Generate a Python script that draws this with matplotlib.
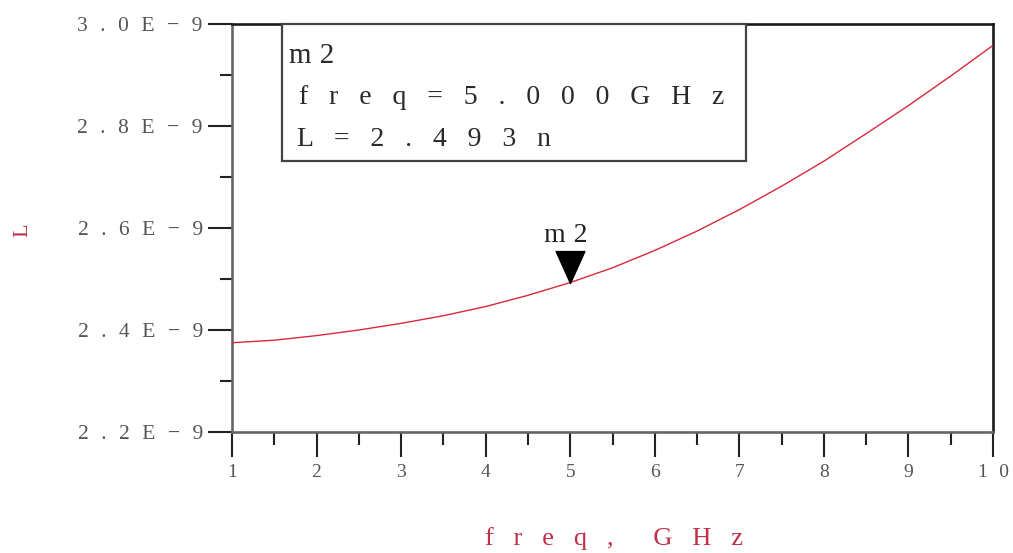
import matplotlib
matplotlib.use("Agg")
import matplotlib.pyplot as plt
from matplotlib.ticker import FixedLocator, FuncFormatter
from matplotlib.patches import Rectangle
from matplotlib.path import Path

# ---- data ----
freq_ghz = [1.0, 1.5, 2.0, 2.5, 3.0, 3.5, 4.0, 4.5, 5.0, 5.5,
            6.0, 6.5, 7.0, 7.5, 8.0, 8.5, 9.0, 9.5, 10.0]
L_nH = [2.375, 2.380, 2.389, 2.400, 2.413, 2.428, 2.446, 2.468, 2.493, 2.522,
        2.556, 2.594, 2.636, 2.682, 2.731, 2.785, 2.840, 2.898, 2.958]
L_henry = [v * 1e-9 for v in L_nH]

marker_name = "m2"
marker_freq = 5.0
marker_L = 2.493e-9

x_major = [1, 2, 3, 4, 5, 6, 7, 8, 9, 10]
x_minor = [1.5, 2.5, 3.5, 4.5, 5.5, 6.5, 7.5, 8.5, 9.5]
y_major = [2.2e-9, 2.4e-9, 2.6e-9, 2.8e-9, 3.0e-9]
y_minor = [2.3e-9, 2.5e-9, 2.7e-9, 2.9e-9]

W, H = 1013, 553
SEP = " \u2002"
SEP_T = "\u2002\u200a"
SEP_M = "\u2009\u200a"
FAM = ['Liberation Serif', 'DejaVu Serif']
RED = '#c0304a'
GREY = '#555555'


def spaced(s, sep=SEP):
    return sep.join(list(s))


def px(x, y):
    return x / W, 1 - y / H


fig = plt.figure(figsize=(W / 100, H / 100), dpi=100)
ax = fig.add_axes([232 / W, 1 - 432 / H, (993 - 232) / W, (432 - 24) / H])

ax.plot(freq_ghz, L_henry, color='#d8283c', lw=1.0, zorder=3)

ax.set_xlim(1, 10)
ax.set_ylim(2.2e-9, 3.0e-9)

ax.xaxis.set_major_locator(FixedLocator(x_major))
ax.xaxis.set_minor_locator(FixedLocator(x_minor))
ax.yaxis.set_major_locator(FixedLocator(y_major))
ax.yaxis.set_minor_locator(FixedLocator(y_minor))

ax.xaxis.set_major_formatter(FuncFormatter(lambda v, p: spaced(f"{v:g}", SEP_T)))
ax.yaxis.set_major_formatter(
    FuncFormatter(lambda v, p: spaced(f"{v * 1e9:.1f}E−9", SEP_T)))

ax.tick_params(axis='x', which='major', direction='out', length=18, width=1.5,
               color='#222222', pad=5, labelsize=14, labelcolor=GREY)
ax.tick_params(axis='x', which='minor', direction='out', length=9, width=1.5,
               color='#222222')
ax.tick_params(axis='y', which='major', direction='out', length=17, width=1.5,
               color='#222222', pad=4, labelsize=15.5, labelcolor=GREY)
ax.tick_params(axis='y', which='minor', direction='out', length=9, width=1.5,
               color='#222222')
for lab in ax.get_xticklabels() + ax.get_yticklabels():
    lab.set_family(FAM)

for side in ('left', 'bottom'):
    ax.spines[side].set_color('#666666')
    ax.spines[side].set_linewidth(1.9)
for side in ('top', 'right'):
    ax.spines[side].set_color('#1a1a1a')
    ax.spines[side].set_linewidth(1.9)

# axis labels
fig.text(*px(614, 539), spaced("freq,") + SEP + SEP + spaced("GHz"),
         color=RED, fontsize=19, family=FAM, ha='center', va='center')
fig.text(*px(23, 230), "L", color=RED, fontsize=16, family=FAM,
         ha='center', va='center', rotation=90)

# marker (downward triangle with tip at the data point)
tri = Path([(-0.45, 1.0), (0.45, 1.0), (0.0, 0.0), (-0.45, 1.0)],
           [Path.MOVETO, Path.LINETO, Path.LINETO, Path.CLOSEPOLY])
ax.plot([marker_freq], [marker_L], marker=tri, markersize=46,
        color='black', linestyle='none', zorder=4)
ax.annotate(spaced(marker_name, SEP_M), xy=(marker_freq, marker_L),
            xytext=(-3, 34), textcoords='offset points', ha='center',
            va='center', fontsize=20, family=FAM, color='#222222')

# marker readout box
x0, y0 = px(282, 161)
x1, y1 = px(746, 24)
fig.patches.append(Rectangle((x0, y0), x1 - x0, y1 - y0,
                             transform=fig.transFigure, facecolor='white',
                             edgecolor='#444444', lw=1.6, zorder=5))
fig.text(*px(289, 56), spaced(marker_name, SEP_M), fontsize=21, family=FAM,
         color='#2a2a2a', ha='left', va='center', zorder=6)
fig.text(*px(299, 97), spaced(f"freq={marker_freq:.3f}GHz"), fontsize=20,
         family=FAM, color='#2a2a2a', ha='left', va='center', zorder=6)
fig.text(*px(297, 139), spaced(f"L={marker_L * 1e9:.3f}n"), fontsize=20,
         family=FAM, color='#2a2a2a', ha='left', va='center', zorder=6)

fig.savefig("out.png", dpi=100)
